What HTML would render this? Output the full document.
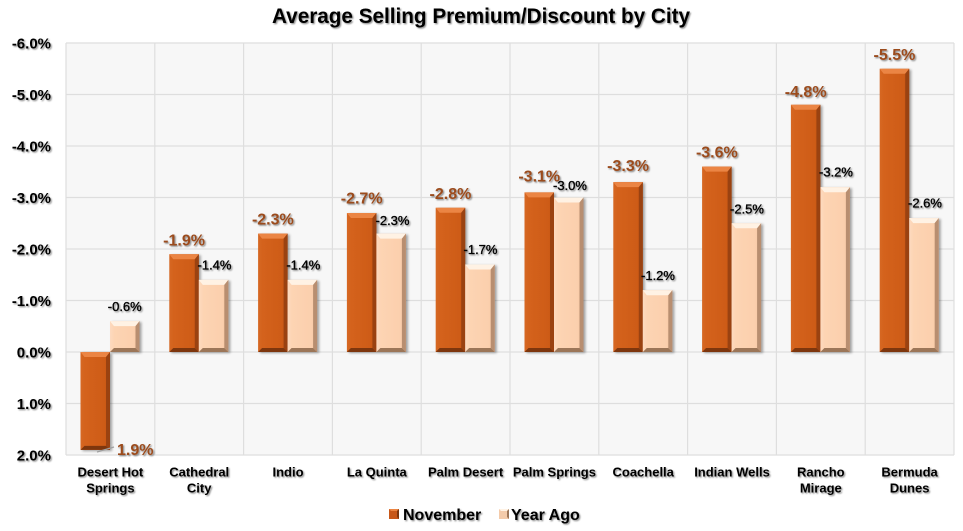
<!DOCTYPE html>
<html><head><meta charset="utf-8"><style>
html,body{margin:0;padding:0;background:#fff;}
svg{display:block;}
text{font-family:"Liberation Sans",Arial,sans-serif;}
</style></head><body>
<svg width="963" height="531" viewBox="0 0 963 531" xmlns="http://www.w3.org/2000/svg">
<defs>
<filter id="ts" x="-10%" y="-30%" width="130%" height="170%"><feDropShadow dx="1.2" dy="1.2" stdDeviation="0.9" flood-color="#000" flood-opacity="0.45"/></filter>
<filter id="bs" x="-20%" y="-10%" width="150%" height="130%"><feGaussianBlur stdDeviation="1.2"/></filter>
<linearGradient id="gN" x1="0" y1="0" x2="1" y2="0">
<stop offset="0" stop-color="#D66823"/><stop offset="0.15" stop-color="#D4621C"/><stop offset="0.8" stop-color="#CE5C17"/><stop offset="1" stop-color="#C35414"/></linearGradient>
<linearGradient id="gY" x1="0" y1="0" x2="1" y2="0">
<stop offset="0" stop-color="#FDDABF"/><stop offset="0.15" stop-color="#FDD4B3"/><stop offset="0.8" stop-color="#FBCFAD"/><stop offset="1" stop-color="#F2C29E"/></linearGradient>
</defs>

<text x="481" y="23" text-anchor="middle" font-size="21" font-weight="bold" fill="#000" textLength="418" lengthAdjust="spacingAndGlyphs" filter="url(#ts)">Average Selling Premium/Discount by City</text>

<rect x="66" y="43" width="888" height="412" fill="#F7F7F7"/>
<g stroke="#DEDEDE" stroke-width="1.2" fill="none">
<line x1="66" y1="43" x2="954" y2="43"/>
<line x1="66" y1="94.5" x2="954" y2="94.5"/>
<line x1="66" y1="146" x2="954" y2="146"/>
<line x1="66" y1="197.5" x2="954" y2="197.5"/>
<line x1="66" y1="249" x2="954" y2="249"/>
<line x1="66" y1="300.5" x2="954" y2="300.5"/>
<line x1="66" y1="352" x2="954" y2="352"/>
<line x1="66" y1="403.5" x2="954" y2="403.5"/>
<line x1="66" y1="455" x2="954" y2="455"/>
<line x1="66" y1="43" x2="66" y2="455"/>
<line x1="154.8" y1="43" x2="154.8" y2="455"/>
<line x1="243.6" y1="43" x2="243.6" y2="455"/>
<line x1="332.4" y1="43" x2="332.4" y2="455"/>
<line x1="421.2" y1="43" x2="421.2" y2="455"/>
<line x1="510" y1="43" x2="510" y2="455"/>
<line x1="598.8" y1="43" x2="598.8" y2="455"/>
<line x1="687.6" y1="43" x2="687.6" y2="455"/>
<line x1="776.4" y1="43" x2="776.4" y2="455"/>
<line x1="865.2" y1="43" x2="865.2" y2="455"/>
<line x1="954" y1="43" x2="954" y2="455"/>
</g>

<g fill="#000" opacity="0.35" filter="url(#bs)">
<rect x="82.5" y="353" width="29.5" height="98"/>
<rect x="171.3" y="255.2" width="29.5" height="97.8"/>
<rect x="260.1" y="234.6" width="29.5" height="118.4"/>
<rect x="348.9" y="214" width="29.5" height="139"/>
<rect x="437.7" y="208.8" width="29.5" height="144.2"/>
<rect x="526.5" y="193.4" width="29.5" height="159.6"/>
<rect x="615.3" y="183.1" width="29.5" height="169.9"/>
<rect x="704.1" y="167.6" width="29.5" height="185.4"/>
<rect x="792.9" y="105.8" width="29.5" height="247.2"/>
<rect x="881.7" y="69.8" width="29.5" height="283.2"/>
<rect x="112" y="322.1" width="29.5" height="30.9"/>
<rect x="200.8" y="280.9" width="29.5" height="72.1"/>
<rect x="289.6" y="280.9" width="29.5" height="72.1"/>
<rect x="378.4" y="234.6" width="29.5" height="118.4"/>
<rect x="467.2" y="265.5" width="29.5" height="87.5"/>
<rect x="556" y="198.5" width="29.5" height="154.5"/>
<rect x="644.8" y="291.2" width="29.5" height="61.8"/>
<rect x="733.6" y="224.3" width="29.5" height="128.7"/>
<rect x="822.4" y="188.2" width="29.5" height="164.8"/>
<rect x="911.2" y="219.1" width="29.5" height="133.9"/>
</g>

<g fill="url(#gN)">
<rect x="80.5" y="352" width="29.5" height="97.9"/>
<rect x="169.3" y="254.2" width="29.5" height="97.8"/>
<rect x="258.1" y="233.6" width="29.5" height="118.4"/>
<rect x="346.9" y="213" width="29.5" height="139"/>
<rect x="435.7" y="207.8" width="29.5" height="144.2"/>
<rect x="524.5" y="192.4" width="29.5" height="159.6"/>
<rect x="613.3" y="182.1" width="29.5" height="169.9"/>
<rect x="702.1" y="166.6" width="29.5" height="185.4"/>
<rect x="790.9" y="104.8" width="29.5" height="247.2"/>
<rect x="879.7" y="68.8" width="29.5" height="283.2"/>
</g>
<g fill="#EB8544">
<polygon points="80.5,352 110,352 106,357 84.5,357"/>
<polygon points="169.3,254.2 198.8,254.2 194.8,259.2 173.3,259.2"/>
<polygon points="258.1,233.6 287.6,233.6 283.6,238.6 262.1,238.6"/>
<polygon points="346.9,213 376.4,213 372.4,218 350.9,218"/>
<polygon points="435.7,207.8 465.2,207.8 461.2,212.8 439.7,212.8"/>
<polygon points="524.5,192.4 554,192.4 550,197.4 528.5,197.4"/>
<polygon points="613.3,182.1 642.8,182.1 638.8,187.1 617.3,187.1"/>
<polygon points="702.1,166.6 731.6,166.6 727.6,171.6 706.1,171.6"/>
<polygon points="790.9,104.8 820.4,104.8 816.4,109.8 794.9,109.8"/>
<polygon points="879.7,68.8 909.2,68.8 905.2,73.8 883.7,73.8"/>
</g>
<g fill="#9A4211">
<polygon points="110,352 110,449.9 106,445.9 106,357"/>
<polygon points="198.8,254.2 198.8,352 194.8,348 194.8,259.2"/>
<polygon points="287.6,233.6 287.6,352 283.6,348 283.6,238.6"/>
<polygon points="376.4,213 376.4,352 372.4,348 372.4,218"/>
<polygon points="465.2,207.8 465.2,352 461.2,348 461.2,212.8"/>
<polygon points="554,192.4 554,352 550,348 550,197.4"/>
<polygon points="642.8,182.1 642.8,352 638.8,348 638.8,187.1"/>
<polygon points="731.6,166.6 731.6,352 727.6,348 727.6,171.6"/>
<polygon points="820.4,104.8 820.4,352 816.4,348 816.4,109.8"/>
<polygon points="909.2,68.8 909.2,352 905.2,348 905.2,73.8"/>
</g>
<g fill="#7E360D">
<polygon points="80.5,449.9 110,449.9 106,445.9 84.5,445.9"/>
<polygon points="169.3,352 198.8,352 194.8,348 173.3,348"/>
<polygon points="258.1,352 287.6,352 283.6,348 262.1,348"/>
<polygon points="346.9,352 376.4,352 372.4,348 350.9,348"/>
<polygon points="435.7,352 465.2,352 461.2,348 439.7,348"/>
<polygon points="524.5,352 554,352 550,348 528.5,348"/>
<polygon points="613.3,352 642.8,352 638.8,348 617.3,348"/>
<polygon points="702.1,352 731.6,352 727.6,348 706.1,348"/>
<polygon points="790.9,352 820.4,352 816.4,348 794.9,348"/>
<polygon points="879.7,352 909.2,352 905.2,348 883.7,348"/>
</g>

<g fill="url(#gY)">
<rect x="110" y="321.1" width="29.5" height="30.9"/>
<rect x="198.8" y="279.9" width="29.5" height="72.1"/>
<rect x="287.6" y="279.9" width="29.5" height="72.1"/>
<rect x="376.4" y="233.6" width="29.5" height="118.4"/>
<rect x="465.2" y="264.5" width="29.5" height="87.5"/>
<rect x="554" y="197.5" width="29.5" height="154.5"/>
<rect x="642.8" y="290.2" width="29.5" height="61.8"/>
<rect x="731.6" y="223.3" width="29.5" height="128.7"/>
<rect x="820.4" y="187.2" width="29.5" height="164.8"/>
<rect x="909.2" y="218.1" width="29.5" height="133.9"/>
</g>
<g fill="#FFF2E4">
<polygon points="110,321.1 139.5,321.1 135.5,326.1 114,326.1"/>
<polygon points="198.8,279.9 228.3,279.9 224.3,284.9 202.8,284.9"/>
<polygon points="287.6,279.9 317.1,279.9 313.1,284.9 291.6,284.9"/>
<polygon points="376.4,233.6 405.9,233.6 401.9,238.6 380.4,238.6"/>
<polygon points="465.2,264.5 494.7,264.5 490.7,269.5 469.2,269.5"/>
<polygon points="554,197.5 583.5,197.5 579.5,202.5 558,202.5"/>
<polygon points="642.8,290.2 672.3,290.2 668.3,295.2 646.8,295.2"/>
<polygon points="731.6,223.3 761.1,223.3 757.1,228.3 735.6,228.3"/>
<polygon points="820.4,187.2 849.9,187.2 845.9,192.2 824.4,192.2"/>
<polygon points="909.2,218.1 938.7,218.1 934.7,223.1 913.2,223.1"/>
</g>
<g fill="#B88E70">
<polygon points="139.5,321.1 139.5,352 135.5,348 135.5,326.1"/>
<polygon points="228.3,279.9 228.3,352 224.3,348 224.3,284.9"/>
<polygon points="317.1,279.9 317.1,352 313.1,348 313.1,284.9"/>
<polygon points="405.9,233.6 405.9,352 401.9,348 401.9,238.6"/>
<polygon points="494.7,264.5 494.7,352 490.7,348 490.7,269.5"/>
<polygon points="583.5,197.5 583.5,352 579.5,348 579.5,202.5"/>
<polygon points="672.3,290.2 672.3,352 668.3,348 668.3,295.2"/>
<polygon points="761.1,223.3 761.1,352 757.1,348 757.1,228.3"/>
<polygon points="849.9,187.2 849.9,352 845.9,348 845.9,192.2"/>
<polygon points="938.7,218.1 938.7,352 934.7,348 934.7,223.1"/>
</g>
<g fill="#9C7658">
<polygon points="110,352 139.5,352 135.5,348 114,348"/>
<polygon points="198.8,352 228.3,352 224.3,348 202.8,348"/>
<polygon points="287.6,352 317.1,352 313.1,348 291.6,348"/>
<polygon points="376.4,352 405.9,352 401.9,348 380.4,348"/>
<polygon points="465.2,352 494.7,352 490.7,348 469.2,348"/>
<polygon points="554,352 583.5,352 579.5,348 558,348"/>
<polygon points="642.8,352 672.3,352 668.3,348 646.8,348"/>
<polygon points="731.6,352 761.1,352 757.1,348 735.6,348"/>
<polygon points="820.4,352 849.9,352 845.9,348 824.4,348"/>
<polygon points="909.2,352 938.7,352 934.7,348 913.2,348"/>
</g>

<line x1="97" y1="452" x2="114" y2="447" stroke="#A0A0A0" stroke-width="1.2"/>

<g font-size="16" font-weight="bold" fill="#9B4B1E" text-anchor="middle" filter="url(#ts)">
<text x="117" y="455" text-anchor="start">1.9%</text>
<text x="184.05" y="245.5">-1.9%</text>
<text x="272.85" y="224.6">-2.3%</text>
<text x="361.65" y="203.5">-2.7%</text>
<text x="450.45" y="198.8">-2.8%</text>
<text x="539.25" y="181.5">-3.1%</text>
<text x="628.05" y="171">-3.3%</text>
<text x="716.85" y="157.6">-3.6%</text>
<text x="805.65" y="97">-4.8%</text>
<text x="894.45" y="59.8">-5.5%</text>
</g>

<g font-size="13" fill="#000" stroke="#000" stroke-width="0.35" text-anchor="middle" filter="url(#ts)">
<text x="124.75" y="311">-0.6%</text>
<text x="214.5" y="269.5">-1.4%</text>
<text x="303.3" y="269.5">-1.4%</text>
<text x="392.5" y="225">-2.3%</text>
<text x="480.5" y="254">-1.7%</text>
<text x="570" y="190">-3.0%</text>
<text x="658" y="280">-1.2%</text>
<text x="747" y="213.3">-2.5%</text>
<text x="836" y="176.5">-3.2%</text>
<text x="925" y="207.5">-2.6%</text>
</g>

<g font-size="15" font-weight="bold" fill="#000" text-anchor="end" filter="url(#ts)">
<text x="51" y="48.4">-6.0%</text>
<text x="51" y="99.9">-5.0%</text>
<text x="51" y="151.4">-4.0%</text>
<text x="51" y="202.9">-3.0%</text>
<text x="51" y="254.4">-2.0%</text>
<text x="51" y="305.9">-1.0%</text>
<text x="51" y="357.4">0.0%</text>
<text x="51" y="408.9">1.0%</text>
<text x="51" y="460.4">2.0%</text>
</g>

<g font-size="13" font-weight="bold" fill="#000" text-anchor="middle" filter="url(#ts)">
<text x="110.4" y="476.7">Desert Hot</text>
<text x="110.4" y="492.7">Springs</text>
<text x="199.2" y="476.7">Cathedral</text>
<text x="199.2" y="492.7">City</text>
<text x="288" y="476.7">Indio</text>
<text x="376.8" y="476.7">La Quinta</text>
<text x="465.6" y="476.7">Palm Desert</text>
<text x="554.4" y="476.7">Palm Springs</text>
<text x="643.2" y="476.7">Coachella</text>
<text x="732" y="476.7">Indian Wells</text>
<text x="820.8" y="476.7">Rancho</text>
<text x="820.8" y="492.7">Mirage</text>
<text x="909.6" y="476.7">Bermuda</text>
<text x="909.6" y="492.7">Dunes</text>
</g>

<rect x="389" y="509" width="10" height="10" fill="#C8581A"/>
<polygon points="389,509 399,509 397,511 391,511" fill="#EB8544"/>
<polygon points="399,509 399,519 397,517 397,511" fill="#7E360D"/>
<rect x="499" y="509" width="10" height="10" fill="#F4CBAA"/>
<polygon points="499,509 509,509 507,511 501,511" fill="#FFF2E4"/>
<polygon points="509,509 509,519 507,517 507,511" fill="#9C7658"/>
<g font-size="16" font-weight="bold" fill="#000" filter="url(#ts)">
<text x="403" y="520">November</text>
<text x="511" y="520">Year Ago</text>
</g>
</svg>
</body></html>
